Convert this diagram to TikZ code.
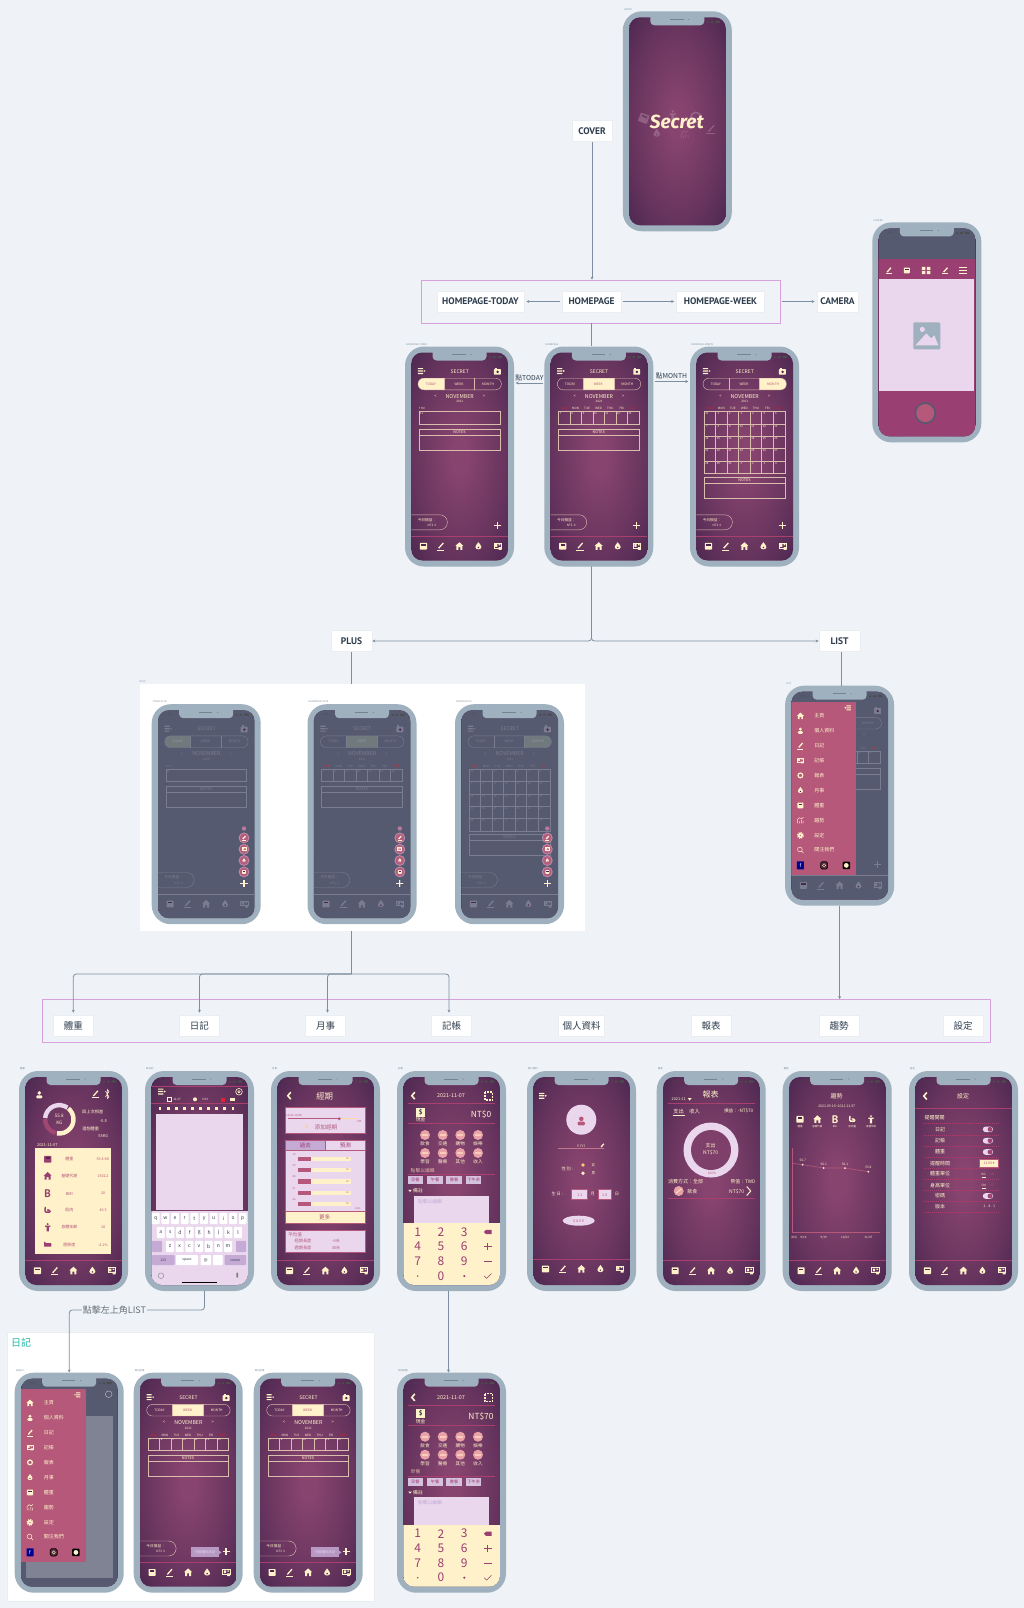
\documentclass[tikz,border=0pt]{standalone}
\usepackage{fontspec}
\usetikzlibrary{arrows.meta,calc}
\setmainfont{Noto Sans CJK TC}
\newfontfamily\boxfont{PT Sans}
\newfontfamily\brandfont{Fira Sans}
\newfontfamily\symfont{DejaVu Sans}

\definecolor{pagebg}{HTML}{EFF3F7}
\definecolor{phonegrey}{HTML}{9FB0BE}
\definecolor{screenin}{HTML}{87446F}
\definecolor{screenout}{HTML}{4B2750}
\definecolor{cream}{HTML}{FFF1C9}
\definecolor{lilac}{HTML}{EAD7EE}
\definecolor{midlilac}{HTML}{C4AAD4}
\definecolor{rose}{HTML}{B5587A}
\definecolor{plum}{HTML}{9A3F72}
\definecolor{linepink}{HTML}{A8406F}
\definecolor{flowline}{HTML}{7D8EA0}
\definecolor{framepink}{HTML}{D9A0E0}
\definecolor{boxtext}{HTML}{2F3E4E}
\definecolor{dimfill}{HTML}{565A70}
\definecolor{dimink}{HTML}{7A7D90}
\definecolor{dimsel}{HTML}{707A7C}
\definecolor{salmon}{HTML}{E9A3A8}
\definecolor{tealtitle}{HTML}{22B8A6}
\colorlet{ink}{cream}
\colorlet{selfill}{cream}
\colorlet{navline}{linepink}
\colorlet{gridink}{cream!70!screenin}

\pgfdeclareradialshading{screenglow}{\pgfpoint{0bp}{0bp}}{color(0bp)=(screenin); color(4bp)=(screenin); color(24bp)=(screenin!45!screenout); color(36bp)=(screenout); color(100bp)=(screenout)}

\tikzset{
  fs/.style={font=\fontsize{#1}{#1}\selectfont,inner sep=0pt,text=ink},
  phonebody/.style={rectangle,rounded corners=19,fill=phonegrey,minimum width=109,minimum height=220,inner sep=0pt},
  phonecap/.style={font=\fontsize{2.4}{3}\selectfont,text=flowline,inner sep=0pt},
  labelbox/.style={rectangle,draw=white!85!flowline,fill=white,line width=.6,minimum height=21,inner sep=0pt,text=boxtext,font=\fontsize{9.5}{11}\selectfont\boxfont\bfseries},
  groupframe/.style={rectangle,draw=framepink,line width=.7,inner sep=0pt},
  panel/.style={rectangle,fill=white,inner sep=0pt},
  flow/.style={draw=flowline,line width=.8,-{Stealth[length=3pt,width=3pt]}},
  flowplain/.style={draw=flowline,line width=.8},
  thin ink/.style={draw=gridink,line width=.4},
  icscale/.pic={\fill[ink,rounded corners=.7] (-3.6,-3.4) rectangle (3.6,3.4);
    \fill[screenout] (-2.2,-2.2) rectangle (2.2,-.7);},
  icpen/.pic={\draw[ink,line width=1.3] (-2,2) -- (2.6,-3.2);
    \draw[ink,line width=.4] (-3.6,3.6) -- (3.6,3.6);},
  ichome/.pic={\fill[ink] (0,-4) -- (4,-.3) -- (3,-.3) -- (3,3.6) -- (1,3.6) -- (1,1) -- (-1,1) -- (-1,3.6) -- (-3,3.6) -- (-3,-.3) -- (-4,-.3) -- cycle;},
  icdrop/.pic={\fill[ink] (0,-4) .. controls (1.5,-1.6) and (3.2,-.5) .. (3,1) .. controls (2.8,3.8) and (-2.8,3.8) .. (-3,1) .. controls (-3.2,-.5) and (-1.5,-1.6) .. (0,-4) -- cycle;
    \fill[screenout] (0,1.2) circle (.8);},
  icbook/.pic={\draw[ink,line width=.7] (-3.6,-3) rectangle (3.6,1.8);
    \fill[ink] (-2.6,-2) rectangle (-.4,.6) (1,-2) rectangle (2.6,-.8) (.8,1) rectangle (3.8,3.6);},
  icmenu/.pic={\fill[ink] (-3.6,-3.2) rectangle (1.6,-2) (-3.6,-.8) rectangle (1.6,.4) (-3.6,1.6) rectangle (1.6,2.8);
    \fill[ink] (2.4,-1.2) -- (4.2,-.2) -- (2.4,.8) -- cycle;},
  icback/.pic={\draw[ink,line width=1.6] (1.5,-3.5) -- (-1.5,0) -- (1.5,3.5);},
  iccamera/.pic={\fill[ink,rounded corners=.6] (-3.6,-2.6) rectangle (3.6,3.4);
    \fill[ink] (-2.6,-4) rectangle (-.6,-2.6);
    \fill[screenout] (.2,.4) circle (1.4);},
  icperson/.pic={\fill[ink] (0,-1.8) circle (1.9);
    \fill[ink,rounded corners=1] (-3,.6) rectangle (3,3.6);},
  icring/.pic={\draw[ink,line width=1.2] (0,0) circle (2.8);},
  ictrend/.pic={\draw[ink,line width=.5] (-3.4,3.4) -- (-3.4,-.5) (-1.2,3.4) -- (-1.2,1) (1,3.4) -- (1,-1) (3.2,3.4) -- (3.2,.5) (-3.6,-1) -- (-1,-3.2) -- (1.4,-2) -- (3.6,-3.6);},
  icgear/.pic={\draw[ink,line width=1.6,dash pattern=on 1.2 off .9] (0,0) circle (3.2);
    \draw[ink,line width=1.3] (0,0) circle (2.1);},
  icsearch/.pic={\draw[ink,line width=.5] (-.6,-.6) circle (2.8) (1.4,1.4) -- (3.6,3.6);},
  icplus/.pic={\draw[ink,line width=1.3] (-3.6,0) -- (3.6,0) (0,-3.6) -- (0,3.6);},
  icfat/.pic={\fill[ink,rounded corners=.6] (-3.6,-1.6) rectangle (3.6,2) (-3.6,-3) rectangle (-2.2,-1);},
  icarm/.pic={\draw[ink,line width=1.4,rounded corners=1] (-2.4,-3.4) -- (-2.8,1.8) -- (2.8,1.8) -- (1.4,-.6) -- (-.6,-.2);},
  icman/.pic={\fill[ink] (0,-3.2) circle (1.1);
    \fill[ink] (-2.6,-1.6) rectangle (2.6,-.4) (-1.2,-1.6) rectangle (1.2,4);},
}

\newcounter{txtno}
\newcommand{\tx}[5][]{\stepcounter{txtno}\node[fs=#4,#1] (txt\arabic{txtno}) at (#2,#3) {#5};}

% phone: name, left, top, caption, screen
\newcommand{\phone}[5]{%
  \node[phonebody] (#1) at (#2+54.5,#3+110) {};
  \node[phonecap,anchor=south west] (#1cap) at (#2+1,#3-1) {#4};
  \begin{scope}[shift={(#2,#3)}]
    \begin{scope}
      \clip[rounded corners=11] (6.3,6) rectangle (103,214);
      \shade[shading=screenglow] (6.3,6) rectangle (103,214);
      #5
    \end{scope}
    \fill[phonegrey,rounded corners=4] (27.5,2) rectangle (81.5,14);
    \draw[line width=.6,draw=phonegrey!75!black] (47.4,8) -- (60.7,8);
    \fill[phonegrey!75!black] (66,8) circle (.6);
    \tx[text=black!70]{18}{10.5}{2.4}{3:03}
    \fill[black!70] (84,10) rectangle (86,11.5) (88,9.6) rectangle (90.5,11.5) (92.5,9.4) rectangle (97,11.5);
  \end{scope}
}

\newcommand{\navbar}[2]{%
  \draw[navline,line width=.5] (6.3,#1) -- (103,#1);
  \pic at (18.4,#2) {icscale};
  \pic at (35.7,#2) {icpen};
  \pic at (54.4,#2) {ichome};
  \pic at (73.4,#2) {icdrop};
  \pic at (92.7,#2) {icbook};
}

% tabs: left, right, centre, selected label
\newcommand{\hometop}[4]{%
  \pic at (16.4,24.7) {icmenu};
  \tx{54.7}{24.7}{5}{SECRET}
  \pic[scale=.95] at (92.4,25) {iccamera};
  \tx{25.8}{37.5}{3.3}{TODAY}
  \tx{54}{37.5}{3.3}{WEEK}
  \tx{83}{37.5}{3.3}{MONTH}
  \begin{scope}
    \clip[rounded corners=5.8] (13,31.7) rectangle (96.4,43.3);
    \fill[selfill] (#1,31.7) rectangle (#2,43.3);
  \end{scope}
  \tx[text=rose]{#3}{37.5}{3.3}{#4}
  \draw[thin ink,rounded corners=5.8] (13,31.7) rectangle (96.4,43.3);
  \draw[thin ink] (38.7,31.7) -- (38.7,43.3) (69.4,31.7) -- (69.4,43.3);
  \tx{54.7}{49.7}{5.3}{NOVEMBER}
  \tx{30.4}{49.7}{4}{<}
  \tx{79}{49.7}{4}{>}
  \tx{54.7}{55.3}{3.1}{2021}
  \draw[thin ink,rounded corners=7.5] (6.3,168.3) -- (42.4,168.3) -- (42.4,183.3) -- (6.3,183.3);
  \tx{22}{173.3}{3.7}{今日損益：}
  \tx{27}{178.8}{3}{NT\$\ \ 0}
  \pic at (92.4,179) {icplus};
  \navbar{189.7}{199.7}
}
\newcommand{\weekdays}{%
  \tx[text=red!70!rose]{19.7}{62.3}{3}{SUN}
  \foreach \dn [count=\i] in {MON,TUE,WED,THU,FRI}{
    \tx{19.7+\i*11.55}{62.3}{3}{\dn}
  }
  \tx[text=red!70!rose]{89}{62.3}{3}{SAT}
}
\newcommand{\notesbox}[2]{%
  \draw[thin ink] (14,#1) rectangle (94.7,#1+21) (14,#1+6) -- (94.7,#1+6);
  \tx{54.4}{#1+3}{3.8}{NOTES}
}
\newcommand{\todaybody}{%
  \tx{17}{62.4}{2.8}{THU}
  \draw[thin ink] (14,65) rectangle (94.7,77.3);
  \tx{16.5}{67}{2.8}{11}
  \notesbox{82.3}{}
}
\newcommand{\weekbody}{%
  \weekdays
  \foreach \cl [count=\i from 7] in {0,...,6}{
    \draw[thin ink] (14+\cl*11.53,65) rectangle (14+\cl*11.53+11.53,77.3);
    \tx{16.4+\cl*11.53}{67.2}{2.8}{\i}
  }
  \notesbox{82.3}{}
}
\newcommand{\monthbody}{%
  \weekdays
  \foreach \rw in {0,...,4}{
    \foreach \cl in {0,...,6}{
      \pgfmathtruncatemacro\daynum{ifthenelse(\rw*7+\cl==0,31,ifthenelse(\rw*7+\cl>30,\rw*7+\cl-30,\rw*7+\cl))}
      \draw[thin ink] (14+\cl*11.53,65+\rw*12.33) rectangle (14+\cl*11.53+11.53,65+\rw*12.33+12.33);
      \tx{16.8+\cl*11.53}{67.4+\rw*12.33}{2.8}{\daynum}
    }
  }
  \notesbox{130.3}{}
}
\newcommand{\dimscreen}{%
  \fill[dimfill] (0,0) rectangle (110,220);
  \colorlet{ink}{dimink}\colorlet{selfill}{dimsel}\colorlet{navline}{dimink}
  \colorlet{rose}{dimink!80!white}\colorlet{gridink}{dimink}
}
\newcommand{\fabstack}{%
  \colorlet{ink}{cream}
  \fill[plum!70!white] (92.3,124.3) circle (2.2);
  \foreach \yy in {133.7,145,156.3,167.7}{
    \fill[white!40!plum] (92.3,\yy) circle (5.4);
    \fill[plum!70!salmon] (92.3,\yy) circle (4.4);
  }
  \pic[scale=.55] at (92.3,133.7) {icpen};
  \pic[scale=.55] at (92.3,145) {icbook};
  \pic[scale=.55] at (92.3,156.3) {icdrop};
  \pic[scale=.55] at (92.3,167.7) {icscale};
  \pic at (92.3,179.3) {icplus};
}
\newcommand{\sidemenu}{%
  \fill[rose] (6.3,16) rectangle (71,189);
  \colorlet{ink}{cream}
  \pic[scale=.85,xscale=-1] at (62.7,22.3) {icmenu};
  \pic[scale=.85] at (15.3,30.3) {ichome};
  \pic[scale=.85] at (15.3,45) {icperson};
  \pic[scale=.85] at (15.3,60) {icpen};
  \pic[scale=.85] at (15.3,74.7) {icbook};
  \pic[scale=.85] at (15.3,89.7) {icring};
  \pic[scale=.85] at (15.3,104.7) {icdrop};
  \pic[scale=.85] at (15.3,119.7) {icscale};
  \pic[scale=.85] at (15.3,134.7) {ictrend};
  \pic[scale=.85] at (15.3,149.7) {icgear};
  \pic[scale=.85] at (15.3,164.3) {icsearch};
  \foreach \yy/\word in {30.3/主頁,45/個人資料,60/日記,74.7/記帳,89.7/報表,104.7/月事,119.7/體重,134.7/趨勢,149.7/設定,164.3/關注我們}{
    \tx[anchor=west]{29}{\yy}{5}{\word}
  }
  \fill[blue!55!black,rounded corners=.5] (11.8,175.7) rectangle (18.8,183.7);
  \tx[text=white]{15.3}{179.7}{5}{f}
  \draw[black,line width=.7,rounded corners=1.5,fill=rose!50!black] (35.5,176) rectangle (42.5,183.3);
  \draw[cream,line width=.4] (39,179.7) circle (1.6);
  \fill[black,rounded corners=1] (57.5,176) rectangle (65,183.5);
  \fill[cream] (61.2,179.7) circle (2.4);
}

\newcommand{\weightscreen}{%
  \pic at (20.3,23.7) {icperson};
  \pic at (76.3,23) {icpen};
  \draw[ink,line width=.6] (86.5,20) -- (90,26) -- (88.3,27.5) -- (88.3,18.5) -- (90,20.5) -- (86.5,26);
  \draw[lilac,line width=4.4] ($(40.3,48.3)+(185:14.2)$) arc (185:305:14.2);
  \draw[cream,line width=4.4] ($(40.3,48.3)+(-50:14.2)$) arc (-50:100:14.2);
  \draw[plum!70!rose,line width=4.4] ($(40.3,48.3)+(105:14.2)$) arc (105:182:14.2);
  \tx{40.3}{44.8}{4.6}{55.8}
  \tx{40.3}{52}{4.6}{KG}
  \tx{73.7}{40.7}{4.2}{與上次相差}
  \tx{84.3}{50}{4}{-0.8}
  \tx{71.7}{58}{4.2}{理想體重}
  \tx{84.3}{65}{4}{55KG}
  \tx{28.3}{73.7}{4}{2021-11-07}
  \fill[cream] (15.7,76.7) rectangle (91.7,183.3);
  \begin{scope}
    \colorlet{ink}{plum}
    \pic at (28.7,88.3) {icscale};
    \pic at (28.7,105) {ichome};
    \tx{28.7}{122.7}{11}{\boxfont\bfseries B}
    \pic at (28.7,139.3) {icarm};
    \pic at (28.7,156.3) {icman};
    \pic at (28.7,173.7) {icfat};
  \end{scope}
  \foreach \yy/\word/\val in {88.3/體重/55.8 KG,105/基礎代謝/1502.2,122.7/BMI/20,139.3/肌肉/40.5,156.3/身體年齡/18,173.7/肥胖度/-4.1\%}{
    \tx[text=rose]{50.3}{\yy}{4}{\word}
    \tx[text=rose]{84}{\yy}{3.6}{\val}
  }
  \navbar{189.3}{199.7}
}
\newcommand{\diaryscreen}{%
  \draw[linepink,line width=.5] (6.3,15.3) -- (103,15.3) (6.3,32.3) -- (103,32.3);
  \pic at (16.7,20.7) {icmenu};
  \draw[ink,line width=.6] (94,20.7) circle (3.3) (94,20.7) circle (1.2);
  \draw[ink,line width=.4] (22,26) rectangle (26,30);
  \tx{32}{28.3}{3}{11.07}
  \fill[ink] (50,28.3) circle (2);
  \tx{60}{28.3}{3}{3:03}
  \fill[red!60!rose] (76,26.5) rectangle (79.5,30.5);
  \fill[ink] (85,27) rectangle (89.5,30);
  \foreach \cl in {0,...,9}{
    \fill[ink] (13.6+\cl*8.1,35.7) rectangle (16.4+\cl*8.1,38.9);
  }
  \fill[lilac] (11,43) rectangle (98,139);
  \fill[lilac] (6.3,140) rectangle (103,214);
  \foreach \kk [count=\i from 0] in {q,w,e,r,t,y,u,i,o,p}{
    \fill[white,rounded corners=.8] (6.8+\i*9.67,141.8) rectangle (14.6+\i*9.67,153);
    \tx[text=boxtext]{10.7+\i*9.67}{147.3}{5}{\kk}
  }
  \foreach \kk [count=\i from 0] in {a,s,d,f,g,h,j,k,l}{
    \fill[white,rounded corners=.8] (11.8+\i*9.67,155.8) rectangle (19.6+\i*9.67,167);
    \tx[text=boxtext]{15.7+\i*9.67}{161.3}{5}{\kk}
  }
  \fill[midlilac,rounded corners=.8] (7,169.8) rectangle (17,181);
  \fill[midlilac,rounded corners=.8] (91,169.8) rectangle (101,181);
  \foreach \kk [count=\i from 0] in {z,x,c,v,b,n,m}{
    \fill[white,rounded corners=.8] (21+\i*9.67,169.8) rectangle (29+\i*9.67,181);
    \tx[text=boxtext]{25+\i*9.67}{175.3}{5}{\kk}
  }
  \fill[midlilac,rounded corners=.8] (7,184) rectangle (29.5,194);
  \tx[text=boxtext]{18.3}{189}{3.4}{123}
  \fill[white,rounded corners=.8] (31,184) rectangle (53,194);
  \tx[text=boxtext]{42}{189}{3.4}{space}
  \fill[white,rounded corners=.8] (55.5,184) rectangle (66,194);
  \tx[text=boxtext]{60.7}{189}{4}{@}
  \fill[white,rounded corners=.8] (68,184) rectangle (77.5,194);
  \tx[text=boxtext]{72.7}{189}{4}{.}
  \fill[midlilac,rounded corners=.8] (79.5,184) rectangle (101,194);
  \tx[text=boxtext]{90.3}{189}{3.4}{return}
  \draw[black!50,line width=.4] (16,204.7) circle (2.8);
  \fill[black!50,rounded corners=.6] (91.4,201.5) rectangle (93.2,206.5);
  \draw[black,line width=.7] (36.7,211.7) -- (71.7,211.7);
}
\newcommand{\periodscreen}{%
  \pic at (18.3,24.7) {icback};
  \tx{53.7}{25}{8.4}{經期}
  \draw[rose,fill=lilac,line width=.6] (14.3,36.7) rectangle (94.3,62.3);
  \tx[text=rose]{23}{44.6}{2.8}{10/21-10/28}
  \draw[rose,line width=.5] (16.7,47.7) -- (68.3,47.7);
  \draw[cream!80!orange,line width=.5] (68.3,47.7) -- (86,47.7);
  \fill[rose] (68.3,47.7) circle (1.6);
  \tx[text=rose]{88}{50.5}{2.6}{-5天}
  \tx[text=cream!60!orange]{35.5}{56}{7}{+}
  \tx[text=rose]{55}{56}{5.7}{添加經期}
  \fill[midlilac] (14.3,69) rectangle (54.3,79.7);
  \fill[lilac] (54.3,69) rectangle (94.3,79.7);
  \fill[lilac] (14.7,80) rectangle (93.9,140.4);
  \draw[rose,line width=.6] (14.3,69) rectangle (94.3,140.7) (14.3,79.7) -- (94.3,79.7) (54.3,69) -- (54.3,79.7);
  \tx[text=plum]{34.3}{74.4}{5.5}{過去}
  \tx[text=plum]{74.3}{74.4}{5.5}{預測}
  \foreach \yy/\word in {87.7/10/21-10/28,99/09/23-09/28,110.3/08/23-08/28,121.7/07/23-07/28,133/06/23-06/28}{
    \tx[text=rose]{23}{\yy-4.5}{2.6}{\word}
    \fill[cream] (27,\yy-2.2) rectangle (79.7,\yy+2.2);
    \fill[rose] (27,\yy-2.2) rectangle (39.7,\yy+2.2);
    \tx[text=rose]{76.5}{\yy}{2.4}{30}
  }
  \tx[text=rose]{87}{137.6}{2.4}{2021}
  \draw[rose,fill=cream,line width=.6] (14.3,140.7) rectangle (94.3,152.7);
  \tx[text=rose]{53.7}{146.7}{5.7}{更多}
  \draw[rose,fill=lilac,line width=.6] (14.3,159.7) rectangle (94.3,181.7);
  \tx[text=rose]{24}{164}{4.6}{平均值}
  \tx[text=rose]{32}{170.3}{4.2}{經期長度}
  \tx[text=rose]{65}{170.3}{4}{-6天}
  \tx[text=rose]{32}{176.7}{4.2}{週期長度}
  \tx[text=rose]{65}{176.7}{4}{30天}
  \navbar{189.3}{199.7}
}
\newcommand{\ledgerscreen}[2]{%
  \pic at (16.3,24.7) {icback};
  \tx{54}{24.7}{5.4}{2021-11-07}
  \draw[ink,line width=1.1,dash pattern=on 2 off 1] (88,21) rectangle (95.5,29);
  \draw[linepink,line width=.5] (11,32.3) -- (98,32.3) (11,52.3) -- (98,52.3);
  \fill[cream] (19,36.5) rectangle (28.4,45.5);
  \tx[text=boxtext]{23.7}{41}{6.5}{\boxfont\bfseries\$}
  \tx{23.7}{49}{4.8}{現金}
  \tx{84}{43.3}{8.4}{#1}
  \foreach \cx/\cy/\word in {28/64/飲食,45.7/64/交通,63.3/64/購物,81/64/娛樂,28/82/學習,45.7/82/醫療,63.3/82/其他,81/82/收入}{
    \fill[salmon] (\cx,\cy) circle (5);
    \fill[cream,opacity=.55] (\cx-3,\cy-1) rectangle (\cx+3,\cy+1);
    \tx{\cx}{\cy+8.6}{4.6}{\word}
  }
  \tx[anchor=west,text=ink!60!rose]{13.5}{99.3}{4.8}{#2}
  \draw[linepink,line width=.5] (11,103.3) -- (98,103.3);
  \foreach \cx/\word in {18.3/早餐,38/午餐,57/晚餐,76.7/下午茶}{
    \fill[midlilac!50!lilac] (\cx-7.7,105.3) rectangle (\cx+7.7,113.3);
    \tx[text=plum]{\cx}{109.3}{4.2}{\word}
  }
  \fill[ink] (11.2,118.8) -- (14.8,118.8) -- (13,121) -- cycle;
  \tx{21}{120}{4.8}{備註}
  \fill[lilac] (16.7,124.7) rectangle (92.3,152.3);
  \tx[text=midlilac]{33}{130.3}{4.8}{點擊以編輯}
  \fill[cream] (6.3,152.3) rectangle (103,214);
  \foreach \yy/\aa/\bb/\cc in {161/1/2/3,175.7/4/5/6,190.7/7/8/9}{
    \tx[text=plum]{20.7}{\yy}{12}{\aa}
    \tx[text=plum]{44}{\yy}{12}{\bb}
    \tx[text=plum]{67.3}{\yy}{12}{\cc}
  }
  \tx[text=plum]{44}{205}{12}{0}
  \fill[plum] (20.7,205) circle (.8) (67.3,205) circle (1.2);
  \fill[plum] (87,161) -- (89,158.8) -- (94.5,158.8) -- (94.5,163.2) -- (89,163.2) -- cycle;
  \draw[plum,line width=.8] (87,175.7) -- (94.5,175.7) (90.7,172) -- (90.7,179.4) (87,190.7) -- (94.5,190.7);
  \draw[plum,line width=.6] (87.2,205) -- (89.6,207.4) -- (94.4,202.6);
}
\newcommand{\profilescreen}{%
  \pic at (15.7,25) {icmenu};
  \fill[lilac] (54.3,48.7) circle (15);
  \begin{scope}
    \colorlet{ink}{rose}
    \pic[scale=1.2] at (54.3,50) {icperson};
  \end{scope}
  \tx{54.3}{74.7}{3.6}{Y I Y I}
  \pic[scale=.6] at (75.3,74.7) {icpen};
  \draw[linepink!70!cream,line width=.4] (31,77.3) -- (77,77.3);
  \tx{40.3}{98}{4.2}{性 別 :}
  \fill[cream!60!orange] (56,94) circle (1.9);
  \fill[cream] (56,102.3) circle (1.9);
  \tx{66.3}{94}{3.6}{女}
  \tx{66.3}{102.3}{3.6}{男}
  \tx{30.3}{123.3}{4.2}{生 日 :}
  \draw[rose,fill=lilac,line width=.5] (44.7,118.7) rectangle (60.7,128.7);
  \tx[text=rose]{52.7}{123.7}{3.8}{1 1}
  \tx{65.7}{123.3}{4.2}{月}
  \draw[rose,fill=lilac,line width=.5] (71,118.7) rectangle (84.3,128.7);
  \tx[text=rose]{77.7}{123.7}{3.8}{1 4}
  \tx{90}{123.3}{4.2}{日}
  \fill[lilac] (51.7,149.7) ellipse (16 and 5);
  \tx[text=rose]{51.7}{149.7}{3.6}{S A V E}
  \navbar{188.3}{198}
}
\newcommand{\reportscreen}{%
  \tx{54}{23.3}{8}{報表}
  \tx{22}{28.3}{3.8}{2021-11}
  \fill[ink] (31.2,27.2) -- (34.8,27.2) -- (33,29.6) -- cycle;
  \draw[linepink,line width=.5] (11,32.3) -- (98,32.3) (11,127) -- (98,127);
  \tx{22}{40.3}{5.3}{支出}
  \draw[ink,line width=1] (16,44.4) -- (28.4,44.4);
  \tx{38}{40.3}{5.3}{收入}
  \tx{82}{40.3}{4.6}{損益：-NT\$70}
  \fill[lilac] (54.3,79) circle (27.5);
  \fill[screenin!85!screenout] (54.3,79) circle (20);
  \tx{54}{74.8}{5}{支出}
  \tx{54}{81.4}{5}{NT\$70}
  \tx[text=rose]{55.3}{102.3}{3.2}{100\%}
  \tx{29}{110.3}{5}{消費方式：全部}
  \tx{86.3}{110.3}{4.8}{幣值：TWD}
  \fill[salmon] (22,120) circle (5);
  \draw[cream,line width=.8] (19.5,122) -- (24.5,118);
  \tx{35.7}{120.3}{5}{飲食}
  \tx{80}{120.7}{5}{NT\$70}
  \draw[ink,line width=1] (90,115.5) -- (94,120) -- (90,124.5);
  \navbar{189.3}{199.7}
}
\newcommand{\trendscreen}{%
  \tx{54}{25}{6}{趨勢}
  \tx{54}{35}{3.5}{2021.09.16\textasciitilde2021.11.07}
  \pic at (17.3,48.3) {icscale};
  \pic at (34.7,48.3) {ichome};
  \tx{52.3}{48.3}{11}{\boxfont\bfseries B}
  \pic at (69.7,48.3) {icarm};
  \pic at (88.3,48.3) {icman};
  \foreach \cx/\word in {17.3/體重,34.7/基礎代謝,52.3/BMI,69.7/肌肉量,88.3/身體年齡}{
    \tx{\cx}{55.6}{2.5}{\word}
  }
  \draw[rose,line width=.6] (10,77) -- (10,161.7) -- (97.3,161.7);
  \draw[rose,line width=.6] (10,92.3) -- (20,93.7) -- (41,97) -- (62.3,97) -- (85.7,100.7);
  \foreach \cx/\cy/\val in {20/93.7/56.7,41/97/56.1,62.3/97/56.1,85.7/100.7/55.8}{
    \fill[cream] (\cx,\cy) circle (1);
    \tx{\cx}{\cy-4}{3.2}{\val}
  }
  \tx{11.7}{166.5}{3}{(KG)}
  \tx{20.7}{167}{3}{9/16}
  \tx{41}{167}{3}{9/19}
  \tx{62.3}{167}{3}{10/02}
  \tx{85.7}{167}{3}{11/07}
  \navbar{189.3}{199.7}
}
\newcommand{\toggle}[1]{%
  \fill[lilac,rounded corners=2.8] (73.8,#1-2.8) rectangle (84,#1+2.8);
  \fill[plum!80!rose] (81,#1) circle (2.4);
}
\newcommand{\settingscreen}{%
  \pic at (16.3,25) {icback};
  \tx{54}{25.3}{6}{設定}
  \draw[linepink,line width=.5] (6.3,37.3) -- (103,37.3);
  \tx{25.7}{46.7}{5}{提醒開關}
  \foreach \yy in {52,63.7,75,86.3,97.3,108.3,119.3,130.3,141.3}{
    \draw[linepink,line width=.4,dash pattern=on 1 off 1] (15.3,\yy) -- (91,\yy);
  }
  \foreach \yy/\word in {58.3/日記,69.7/記帳,81/體重,92.3/提醒時間,103/體重單位,114.3/身高單位,125/密碼,135.7/版本}{
    \tx{31}{\yy}{5}{\word}
  }
  \toggle{58.3}\toggle{69.7}\toggle{81}\toggle{125}
  \draw[rose,fill=cream,line width=.5] (70.5,88.3) rectangle (89.5,96.3);
  \tx[text=rose]{80}{92.3}{3.4}{11:00 {\symfont ▾}}
  \tx{74.7}{103}{3}{KG}
  \tx[text=rose]{83.3}{103}{3}{LB}
  \draw[ink,line width=.5] (72.5,106) -- (77,106);
  \tx{74.7}{114.3}{3}{CM}
  \tx[text=rose]{83.3}{114.3}{3}{FT}
  \draw[ink,line width=.5] (72.5,117) -- (77,117);
  \tx{80.3}{135.7}{3.6}{1 . 4 . 1}
  \navbar{189.3}{199.7}
}
\newcommand{\savedtip}{%
  \fill[midlilac,opacity=.85] (57.3,174.7) rectangle (85.3,184.7);
  \fill[midlilac,opacity=.85] (85.3,177.8) -- (87.8,179.7) -- (85.3,181.6) -- cycle;
  \tx[text=lilac]{71.3}{179.7}{3.4}{已經儲存日記}
}

\begin{document}
\begin{tikzpicture}[x=1pt,y=-1pt]
  \fill[pagebg] (0,0) rectangle (1024,1608);
  \useasboundingbox (0,0) rectangle (1024,1608);

  \node[panel,minimum width=445.5,minimum height=247] (plusframe) at (362.25,807.5) {};
  \node[phonecap,anchor=south west] (plusframecap) at (139.5,683) {PLUS};
  \node[panel,draw=white!85!flowline,line width=.6,minimum width=367,minimum height=268.5] (diaryframe) at (190.5,1466.75) {};
  \node[font=\fontsize{10}{12}\selectfont,text=tealtitle,inner sep=0pt] (diarytitle) at (21,1343) {日記};

  \node[groupframe,minimum width=359,minimum height=43] (homegroup) at (600.5,301.5) {};
  \node[groupframe,minimum width=948,minimum height=43] (pagegroup) at (516,1021) {};

  \node[labelbox,minimum width=40] (coverbox) at (592,131) {COVER};
  \node[labelbox,minimum width=87] (todaybox) at (480.5,301.5) {HOMEPAGE-TODAY};
  \node[labelbox,minimum width=59] (homebox) at (591.5,301.5) {HOMEPAGE};
  \node[labelbox,minimum width=88] (weekbox) at (720.5,301.5) {HOMEPAGE-WEEK};
  \node[labelbox,minimum width=41] (camerabox) at (837.5,301.5) {CAMERA};
  \node[labelbox,minimum width=41] (plusbox) at (351.5,641) {PLUS};
  \node[labelbox,minimum width=41] (listbox) at (839.5,641) {LIST};
  \foreach \nm/\px/\boxw/\word in {weight/73.3/40/體重,diary/199.4/40/日記,period/325.5/40/月事,ledger/451.5/40/記帳,profile/581.7/46/個人資料,report/711/40/報表,trend/839/40/趨勢,setting/963/40/設定}{
    \node[labelbox,minimum width=\boxw,font=\fontsize{9.5}{11}\selectfont] (\nm box) at (\px,1025.5) {\word};
  }

  \phone{pcover}{622.8}{11.3}{COVER}{%
    \colorlet{ink}{screenin!65!white}
    \begin{scope}[opacity=.5]
      \pic[rotate=-20,scale=1.3] at (21,107) {icscale};
      \pic[scale=1.2] at (50,104) {icman};
      \draw[ink,line width=1.6] (73,106) circle (5);
      \pic[scale=1.1] at (34,122) {icdrop};
      \pic[scale=1.2] at (88,118) {icpen};
      \pic[scale=1] at (62,123) {ictrend};
    \end{scope}
    \tx[text=cream]{54}{111}{19}{\brandfont\bfseries\itshape Secret}
  }
  \phone{pcamera}{872.3}{222.4}{CAMERA}{%
    \fill[dimfill] (0,0) rectangle (110,37);
    \fill[plum] (0,37) rectangle (110,220);
    \fill[lilac] (7,57) rectangle (102,169);
    \pic[scale=.85] at (16.5,48) {icpen};
    \pic[scale=.85] at (34.5,48) {icscale};
    \fill[cream] (49.5,44.5) rectangle (53,47.6) (54.5,44.5) rectangle (58,47.6) (49.5,48.6) rectangle (53,51.6) (54.5,48.6) rectangle (58,51.6);
    \pic[scale=.85] at (73,48) {icpen};
    \draw[ink,line width=.5] (87,45) -- (95,45) (87,48) -- (95,48) (87,51) -- (95,51);
    \fill[phonegrey,rounded corners=1.2] (41,100) rectangle (68,127);
    \fill[lilac] (50,107) circle (2.6);
    \fill[lilac] (43,123) -- (54,111) -- (59,116) -- (62,113) -- (66,123) -- cycle;
    \draw[dimfill,fill=rose,line width=1.6] (53,190.7) circle (10);
  }
  \phone{ptoday}{405}{346.5}{HOMEPAGE-TODAY}{\hometop{13}{38.7}{25.8}{TODAY}\todaybody}
  \phone{phome}{544.3}{346.5}{HOMEPAGE}{\hometop{38.7}{69.4}{54}{WEEK}\weekbody}
  \phone{pmonth}{690}{346.5}{HOMEPAGE-MONTH}{\hometop{69.4}{96.4}{83}{MONTH}\monthbody}

  \phone{ptodayplus}{151.7}{704.2}{TODAY-PLUS}{\dimscreen\hometop{13}{38.7}{25.8}{TODAY}\todaybody\fabstack}
  \phone{phomeplus}{307.5}{704.2}{HOMEPAGE-PLUS}{\dimscreen\hometop{38.7}{69.4}{54}{WEEK}\weekbody\fabstack}
  \phone{pmonthplus}{455}{704.2}{MONTH-PLUS}{\dimscreen\hometop{69.4}{96.4}{83}{MONTH}\monthbody\fabstack}
  \phone{plist}{785.1}{685.7}{LIST}{\dimscreen\hometop{38.7}{38.7}{-20}{}\weekbody\definecolor{rose}{HTML}{B5587A}\sidemenu}

  \phone{pweight}{19}{1071}{體重}{\weightscreen}
  \phone{pdiary}{145}{1071}{寫日記}{\diaryscreen}
  \phone{pperiod}{271}{1071}{月事}{\periodscreen}
  \phone{pledger}{397}{1071}{記帳}{\ledgerscreen{NT\$0}{點擊以編輯}}
  \phone{pprofile}{527}{1071}{個人資料}{\profilescreen}
  \phone{preport}{656.7}{1071}{報表}{\reportscreen}
  \phone{ptrend}{782.7}{1071}{趨勢}{\trendscreen}
  \phone{psetting}{909}{1071}{設定}{\settingscreen}

  \phone{pdiarylist}{14.7}{1372.7}{日記list}{%
    \fill[dimfill] (0,0) rectangle (110,220);
    \fill[white!25!dimfill] (11,43) rectangle (98,205);
    \sidemenu
    \draw[dimink!60!white,line width=.5] (94,21.5) circle (3.3);
  }
  \phone{pdiarya}{133.7}{1372.7}{寫日記後}{\hometop{38.7}{69.4}{54}{WEEK}\weekbody\savedtip}
  \phone{pdiaryb}{253.7}{1372.7}{寫日記後}{\hometop{38.7}{69.4}{54}{WEEK}\weekbody\savedtip}
  \phone{pledgerb}{397}{1372.7}{完成記帳}{\ledgerscreen{NT\$70}{早餐}}

  \draw[flow] (coverbox.south) -- (coverbox.south |- homegroup.north);
  \draw[flow] ([xshift=-2pt]homebox.west) -- ([xshift=2pt]todaybox.east);
  \draw[flow] ([xshift=2pt]homebox.east) -- ([xshift=-2pt]weekbox.west);
  \draw[flow] ([xshift=2pt]homegroup.east) -- ([xshift=-2pt]camerabox.west);
  \draw[flowplain] (homebox.south |- homegroup.south) -- (homebox.south |- phome.north);
  \draw[flow] ([xshift=-1pt,yshift=73.5pt]phome.west) -- node[above=2pt,font=\fontsize{6.8}{8}\selectfont,text=boxtext,inner sep=0pt] (todaytap) {點TODAY} ([xshift=1.5pt,yshift=73.5pt]ptoday.east);
  \draw[flow] ([xshift=1pt,yshift=75pt]phome.east) -- node[above=2pt,font=\fontsize{6.8}{8}\selectfont,text=boxtext,inner sep=0pt] (monthtap) {點MONTH} ([xshift=-1.5pt,yshift=75pt]pmonth.west);
  \coordinate (hometee) at (591.5,641);
  \draw[flow,rounded corners=3] (hometee |- phome.south) |- (plusbox.east);
  \draw[flow,rounded corners=3] (hometee |- phome.south) |- (listbox.west);
  \draw[flowplain] (plusbox.south) -- (plusbox.south |- plusframe.north);
  \draw[flowplain] ([xshift=1.5pt]listbox.south) -- ([xshift=1.5pt]listbox.south |- plist.north);
  \coordinate (plustee) at (351.5,974);
  \draw[flowplain] (plustee |- plusframe.south) -- (plustee);
  \foreach \nm/\sh in {weight/0,diary/0,period/2,ledger/-2.5}{
    \draw[flow,rounded corners=3] (plustee) -| ([xshift=\sh pt,yshift=2pt]\nm box.north);
  }
  \draw[flow] (plist.south) -- (plist.south |- pagegroup.north);
  \node[font=\fontsize{9}{11}\selectfont,text=boxtext!75!white,inner sep=1pt] (tapmenu) at (114.5,1310) {點擊左上角LIST};
  \draw[flowplain,rounded corners=3] ([xshift=5pt]pdiary.south) |- (tapmenu.east);
  \draw[flow,rounded corners=3] (tapmenu.west) -| (pdiarylist.north);
  \draw[flow] ([xshift=-3pt]pledger.south) -- ([xshift=-3pt]pledgerb.north);
\end{tikzpicture}
\end{document}
